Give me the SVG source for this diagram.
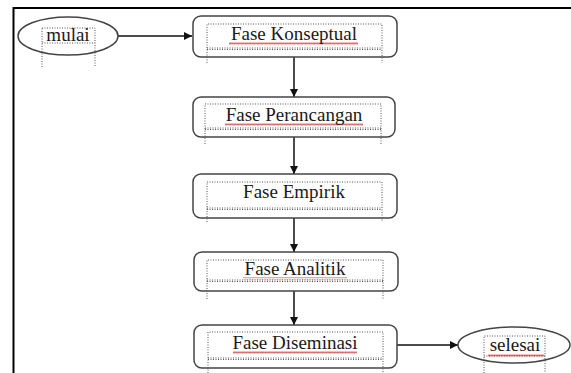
<svg xmlns="http://www.w3.org/2000/svg" width="571" height="373" viewBox="0 0 571 373">
<style>
.frame{stroke:#000;stroke-width:2;fill:none}
.box{fill:#fff;stroke:#444;stroke-width:1.5}
.dot{fill:none;stroke:#555;stroke-width:1;stroke-dasharray:1 1.5}
.lbl{font-family:"Liberation Serif","Times New Roman",serif;font-size:19px;fill:#1a1a1a;text-anchor:middle}
.edge{stroke:#111;stroke-width:1.5;fill:none}
.sq{fill:url(#wave)}
</style>
<defs>
<marker id="arr" viewBox="0 0 10 10" refX="10" refY="5" markerWidth="8" markerHeight="8" markerUnits="userSpaceOnUse" orient="auto">
<path d="M0,0 L10,5 L0,10 Z" fill="#111"/>
</marker>
<pattern id="wave" width="4" height="3" patternUnits="userSpaceOnUse">
<path d="M0,2.5 L1,0.5 L2,2.5 L3,0.5 L4,2.5" fill="none" stroke="#d03030" stroke-width="0.7"/>
</pattern>
</defs>
<path class="frame" d="M13.5,373 V8 H571"/>
<g id="connectors">
<line class="edge" x1="118" y1="36" x2="192" y2="36" marker-end="url(#arr)"/>
<line class="edge" x1="294" y1="57" x2="294" y2="97" marker-end="url(#arr)"/>
<line class="edge" x1="294" y1="137" x2="294" y2="174" marker-end="url(#arr)"/>
<line class="edge" x1="294" y1="218" x2="294" y2="252" marker-end="url(#arr)"/>
<line class="edge" x1="294" y1="291" x2="294" y2="325" marker-end="url(#arr)"/>
<line class="edge" x1="397" y1="345" x2="458" y2="345" marker-end="url(#arr)"/>
</g>
<g id="mulai">
<ellipse cx="68" cy="36" rx="50" ry="19" fill="#fff" stroke="#444" stroke-width="1.5"/>
<path class="dot" d="M42,28 H95 V67 M42,67 V28 M42,43 H95"/>
<text class="lbl" x="68" y="41">mulai</text>
</g>
<g id="fase-konseptual">
<rect class="box" x="193" y="16" width="204" height="41" rx="8"/>
<path class="dot" d="M207,63 V24 H382 V63 M207,48 H382 M207,49.5 H382"/>
<rect class="sq" x="229" y="42" width="129" height="3"/>
<text class="lbl" x="294" y="40">Fase Konseptual</text>
</g>
<g id="fase-perancangan">
<rect class="box" x="193" y="97" width="202" height="40" rx="8"/>
<path class="dot" d="M205,144 V104 H381 V144 M205,128 H381 M205,129.5 H381"/>
<rect class="sq" x="225" y="123" width="138" height="3"/>
<text class="lbl" x="294" y="121">Fase Perancangan</text>
</g>
<g id="fase-empirik">
<rect class="box" x="193" y="174" width="204" height="44" rx="8"/>
<path class="dot" d="M207,222 V182 H382 V222 M207,208 H382 M207,209.5 H382"/>
<text class="lbl" x="294" y="198">Fase Empirik</text>
</g>
<g id="fase-analitik">
<rect class="box" x="194" y="252" width="204" height="39" rx="8"/>
<path class="dot" d="M207,299 V260 H383 V299 M207,280 H383 M207,281.5 H383"/>
<rect class="sq" x="243" y="277" width="104" height="3" opacity="0.6"/>
<text class="lbl" x="295" y="275">Fase Analitik</text>
</g>
<g id="fase-diseminasi">
<rect class="box" x="194" y="325" width="203" height="43" rx="8"/>
<path class="dot" d="M208,373 V332 H383 V373 M208,358 H383 M208,359.5 H383"/>
<rect class="sq" x="233" y="351" width="124" height="3"/>
<text class="lbl" x="295" y="349">Fase Diseminasi</text>
</g>
<g id="selesai">
<ellipse cx="514" cy="345" rx="56" ry="18" fill="#fff" stroke="#444" stroke-width="1.5"/>
<path class="dot" d="M484,373 V336 H545 V373 M484,356 H545"/>
<rect class="sq" x="488" y="354" width="56" height="3"/>
<text class="lbl" x="515" y="351">selesai</text>
</g>
</svg>
